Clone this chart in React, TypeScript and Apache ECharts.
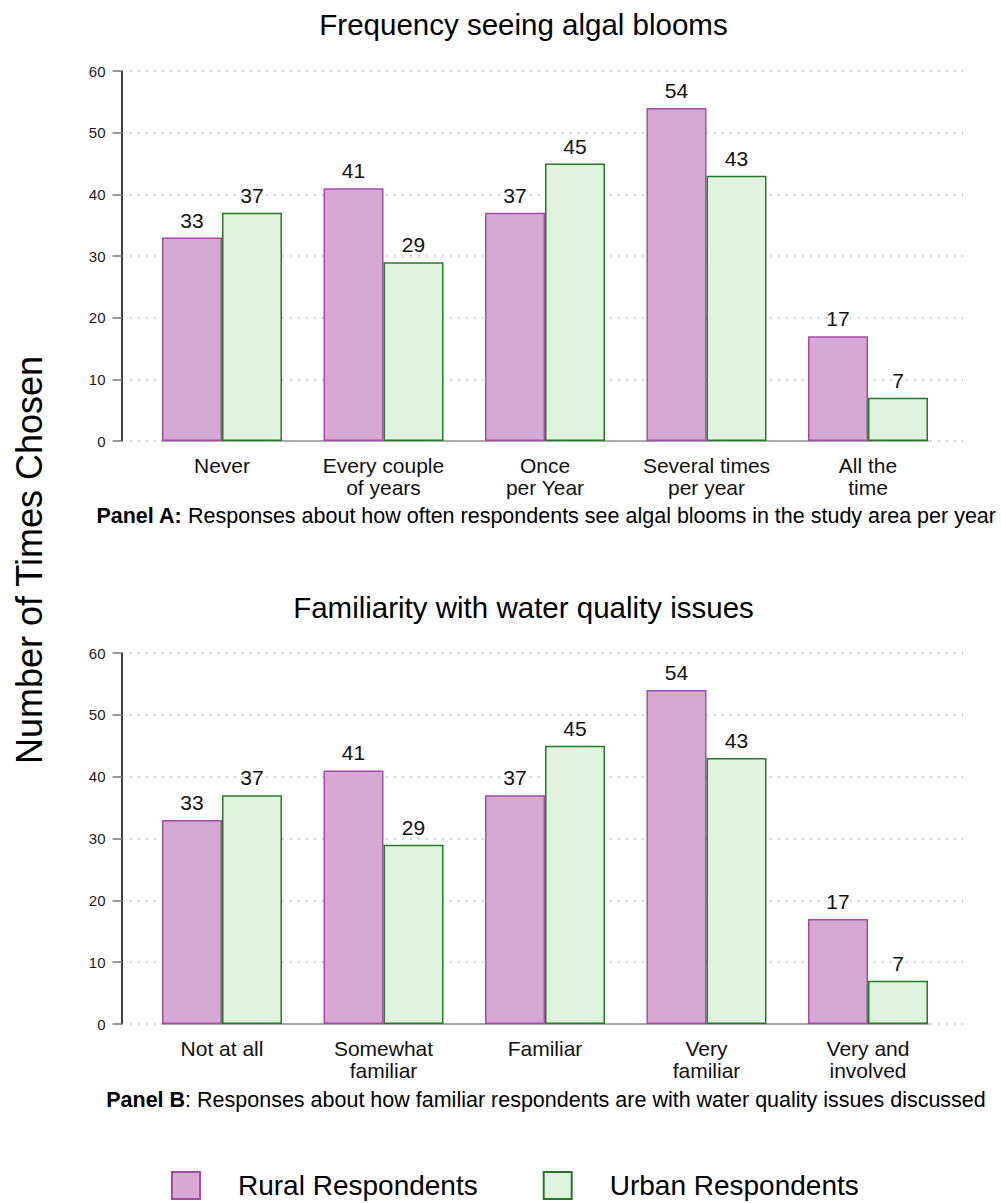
import React, { useEffect, useRef } from "react";
import * as echarts from "echarts";

const categoriesA = ["Never", "Every couple\nof years", "Once\nper Year", "Several times\nper year", "All the\ntime"];
const categoriesB = ["Not at all", "Somewhat\nfamiliar", "Familiar", "Very\nfamiliar", "Very and\ninvolved"];
const ruralA = [33, 41, 37, 54, 17];
const urbanA = [37, 29, 45, 43, 7];
const ruralB = [33, 41, 37, 54, 17];
const urbanB = [37, 29, 45, 43, 7];
const seriesNames = ["Rural Respondents", "Urban Respondents"];
const titleA = "Frequency seeing algal blooms";
const titleB = "Familiarity with water quality issues";
const captionA = ["Panel A:", " Responses about how often respondents see algal blooms in the study area per year"];
const captionB = ["Panel B", ": Responses about how familiar respondents are with water quality issues discussed"];
const yAxisTitle = "Number of Times Chosen";
const yMin = 0;
const yMax = 60;
const yInterval = 10;

const FONT = "'Liberation Sans', Arial, sans-serif";
const RURAL_FILL = "#d6a9d4";
const RURAL_BORDER = "#a64ca6";
const URBAN_FILL = "#dff3de";
const URBAN_BORDER = "#257a25";

export default function App() {
  const ref = useRef<HTMLDivElement>(null);
  useEffect(() => {
    if (!ref.current) return;
    const chart = echarts.init(ref.current, null, { renderer: "svg" });
    const panels = [
      { top: 71, height: 370, cats: categoriesA, rural: ruralA, urban: urbanA },
      { top: 653, height: 371, cats: categoriesB, rural: ruralB, urban: urbanB },
    ];
    const grids: any[] = [];
    const xAxes: any[] = [];
    const yAxes: any[] = [];
    const series: any[] = [];
    panels.forEach((p, i) => {
      const base = i * 3;
      // background grid: y axis, ticks and dotted gridlines
      grids.push({ left: 130, right: 38, top: p.top, height: p.height });
      xAxes.push({ type: "value", gridIndex: base, show: false });
      yAxes.push({
        type: "value",
        gridIndex: base,
        position: "left",
        min: yMin,
        max: yMax,
        interval: yInterval,
        offset: 8.5,
        axisLine: { show: true, onZero: false, lineStyle: { color: "#000", width: 1.5 } },
        axisTick: { show: true, length: 9, lineStyle: { color: "#999", width: 2 } },
        axisLabel: { fontSize: 15, color: "#1a1a1a", margin: 16, fontFamily: FONT },
        splitLine: { show: true, lineStyle: { color: "#b5b5b5", width: 1.5, type: [1.5, 6.5] } },
      });
      // bars grid
      grids.push({ left: 141.25, width: 807.5, top: p.top, height: p.height });
      xAxes.push({
        type: "category",
        gridIndex: base + 1,
        data: p.cats,
        axisLine: { show: false },
        axisTick: { show: false },
        axisLabel: { fontSize: 21, lineHeight: 22, color: "#111", margin: 13.5, fontFamily: FONT, interval: 0 },
      });
      yAxes.push({ type: "value", gridIndex: base + 1, min: yMin, max: yMax, interval: yInterval, show: false, splitLine: { show: false } });
      // baseline grid
      grids.push({ left: 162, width: 766, top: p.top, height: p.height });
      xAxes.push({
        type: "value",
        gridIndex: base + 2,
        axisLine: { show: true, lineStyle: { color: "#aaa", width: 2 } },
        axisTick: { show: false },
        axisLabel: { show: false },
        splitLine: { show: false },
      });
      yAxes.push({ type: "value", gridIndex: base + 2, show: false, splitLine: { show: false } });

      const label = { show: true, position: "top", distance: 7, fontSize: 21, color: "#111", fontFamily: FONT };
      series.push({
        name: seriesNames[0],
        type: "bar",
        xAxisIndex: base + 1,
        yAxisIndex: base + 1,
        data: p.rural,
        barWidth: 60,
        barGap: "0%",
        itemStyle: { color: RURAL_FILL, borderColor: RURAL_BORDER, borderWidth: 1.5 },
        label,
        z: 3,
      });
      series.push({
        name: seriesNames[1],
        type: "bar",
        xAxisIndex: base + 1,
        yAxisIndex: base + 1,
        data: p.urban,
        barWidth: 60,
        barGap: "0%",
        itemStyle: { color: URBAN_FILL, borderColor: URBAN_BORDER, borderWidth: 1.5 },
        label,
        z: 3,
      });
    });

    chart.setOption({
      animation: false,
      backgroundColor: "#fff",
      textStyle: { fontFamily: FONT },
      grid: grids,
      xAxis: xAxes,
      yAxis: yAxes,
      series,
      legend: {
        data: seriesNames,
        left: 171,
        top: 1171,
        padding: 0,
        itemWidth: 28,
        itemHeight: 27,
        itemGap: 65,
        icon: "rect",
        textStyle: { fontSize: 28, color: "#000", fontFamily: FONT, padding: [0, 0, 0, 33] },
      },
      graphic: [
        {
          type: "text",
          x: 523.5,
          y: 24,
          style: { text: titleA, fontSize: 29.5, fill: "#000", fontFamily: FONT, align: "center", verticalAlign: "middle" },
        },
        {
          type: "text",
          x: 523.5,
          y: 607,
          style: { text: titleB, fontSize: 29.5, fill: "#000", fontFamily: FONT, align: "center", verticalAlign: "middle" },
        },
        {
          type: "text",
          x: 546,
          y: 516,
          style: {
            text: "{b|" + captionA[0] + "}{n|" + captionA[1] + "}",
            align: "center",
            verticalAlign: "middle",
            rich: {
              b: { fontSize: 21.5, fontWeight: "bold", fill: "#000", fontFamily: FONT },
              n: { fontSize: 21.5, fill: "#000", fontFamily: FONT },
            },
          },
        },
        {
          type: "text",
          x: 546,
          y: 1100,
          style: {
            text: "{b|" + captionB[0] + "}{n|" + captionB[1] + "}",
            align: "center",
            verticalAlign: "middle",
            rich: {
              b: { fontSize: 21.5, fontWeight: "bold", fill: "#000", fontFamily: FONT },
              n: { fontSize: 21.5, fill: "#000", fontFamily: FONT },
            },
          },
        },
        {
          type: "text",
          x: 29,
          y: 560,
          rotation: Math.PI / 2,
          style: { text: yAxisTitle, fontSize: 36, fill: "#000", fontFamily: FONT, align: "center", verticalAlign: "middle" },
        },
      ],
    });
    return () => chart.dispose();
  }, []);
  return (
    <div
      ref={ref}
      style={{ position: "fixed", left: 0, top: 0, width: 1001, height: 1203, background: "#fff" }}
    />
  );
}
